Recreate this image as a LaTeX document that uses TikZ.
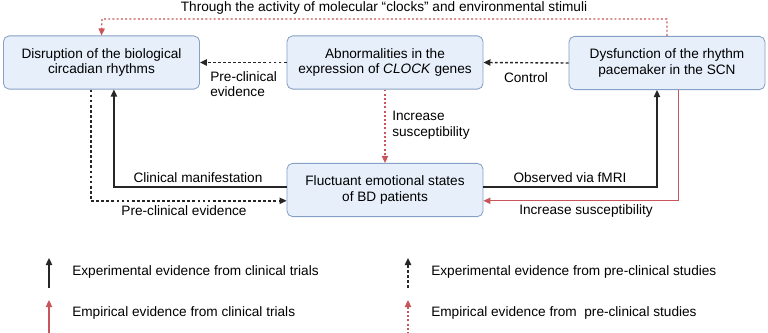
\documentclass[tikz,border=0pt]{standalone}
\usepackage{fontspec}
\setmainfont{Liberation Sans}
\usetikzlibrary{arrows.meta}
\definecolor{boxfill}{HTML}{E7EFFA}
\definecolor{boxline}{HTML}{84A0C4}
\definecolor{evred}{HTML}{C8555A}
\definecolor{evblack}{HTML}{262626}

\begin{document}
\begin{tikzpicture}[x=0.025cm, y=-0.025cm,
        font=\fontsize{9.7}{11.2}\selectfont,
        box/.style={draw=boxline, fill=boxfill, rounded corners=4pt, line width=0.6pt,
            minimum width=4.9cm, minimum height=1.33cm, align=center, inner sep=2pt},
        tip/.style={-{Triangle[length=5pt,width=4.5pt]}},
        clin/.style={tip, evblack, line width=0.9pt},
        preclin/.style={tip, evblack, line width=1pt, dash pattern=on 2pt off 1.6pt},
        empclin/.style={tip, evred, line width=0.8pt},
        emppre/.style={tip, evred, line width=0.9pt, dash pattern=on 1.4pt off 1.6pt},
        lbl/.style={inner sep=0pt, align=left}]
    \useasboundingbox (0,0) rectangle (768,333);

    % boxes
    \node[box] (disrupt) at (101.5,62.5) {Disruption of the biological\\circadian rhythms};
    \node[box] (abnorm) at (385,62.5) {Abnormalities in the\\expression of \textit{CLOCK} genes};
    \node[box] (pacemaker) at (667,63) {Dysfunction of the rhythm\\pacemaker in the SCN};
    \node[box] (fluct) at (385,190) {Fluctuant emotional states\\of BD patients};

    % top loop
    \coordinate (topbend) at (102,19);
    \draw[emppre] (pacemaker.north) |- (topbend) -- (disrupt.north);
    \node[lbl] (through) at (384,8) {Through the activity of molecular “clocks” and environmental stimuli};

    % upper row
    \draw[preclin] (abnorm.west) -- (disrupt.east);
    \node[lbl, anchor=north west] (preev) at (210,71) {Pre-clinical\\evidence};
    \draw[preclin] (pacemaker.west) -- (abnorm.east);
    \node[lbl] (control) at (526,78) {Control};

    \draw[emppre] (abnorm.south) -- (fluct.north);
    \node[lbl, anchor=north west] (incr) at (392,111) {Increase\\susceptibility};

    % left side
    \draw[clin] ([yshift=0.075cm]fluct.west) -| ([xshift=0.31cm]disrupt.south);
    \node[lbl] (clinman) at (198,178) {Clinical manifestation};
    \draw[preclin] ([xshift=-0.26cm]disrupt.south) |- ([yshift=-0.27cm]fluct.west);
    \node[lbl] (preev2) at (184,211) {Pre-clinical evidence};

    % right side
    \draw[clin] ([yshift=0.075cm]fluct.east) -| ([xshift=-0.25cm]pacemaker.south);
    \node[lbl] (fmri) at (570,178) {Observed via fMRI};
    \draw[empclin] ([xshift=0.28cm]pacemaker.south) |- ([yshift=-0.27cm]fluct.east);
    \node[lbl] (incr2) at (586,211) {Increase susceptibility};

    % legend
    \coordinate (l1a) at (49,288); \coordinate (l1b) at (49,258);
    \coordinate (l2a) at (49,334); \coordinate (l2b) at (49,300);
    \coordinate (l3a) at (408,288); \coordinate (l3b) at (408,258);
    \coordinate (l4a) at (408,334); \coordinate (l4b) at (408,300);
    \draw[clin] (l1a) -- (l1b);
    \draw[empclin] (l2a) -- (l2b);
    \draw[preclin] (l3a) -- (l3b);
    \draw[emppre] (l4a) -- (l4b);
    \node[lbl, anchor=west] (leg1) at (72,272) {Experimental evidence from clinical trials};
    \node[lbl, anchor=west] (leg2) at (72,313) {Empirical evidence from clinical trials};
    \node[lbl, anchor=west] (leg3) at (431,272) {Experimental evidence from pre-clinical studies};
    \node[lbl, anchor=west] (leg4) at (431,313) {Empirical evidence from\ \ pre-clinical studies};
\end{tikzpicture}
\end{document}
